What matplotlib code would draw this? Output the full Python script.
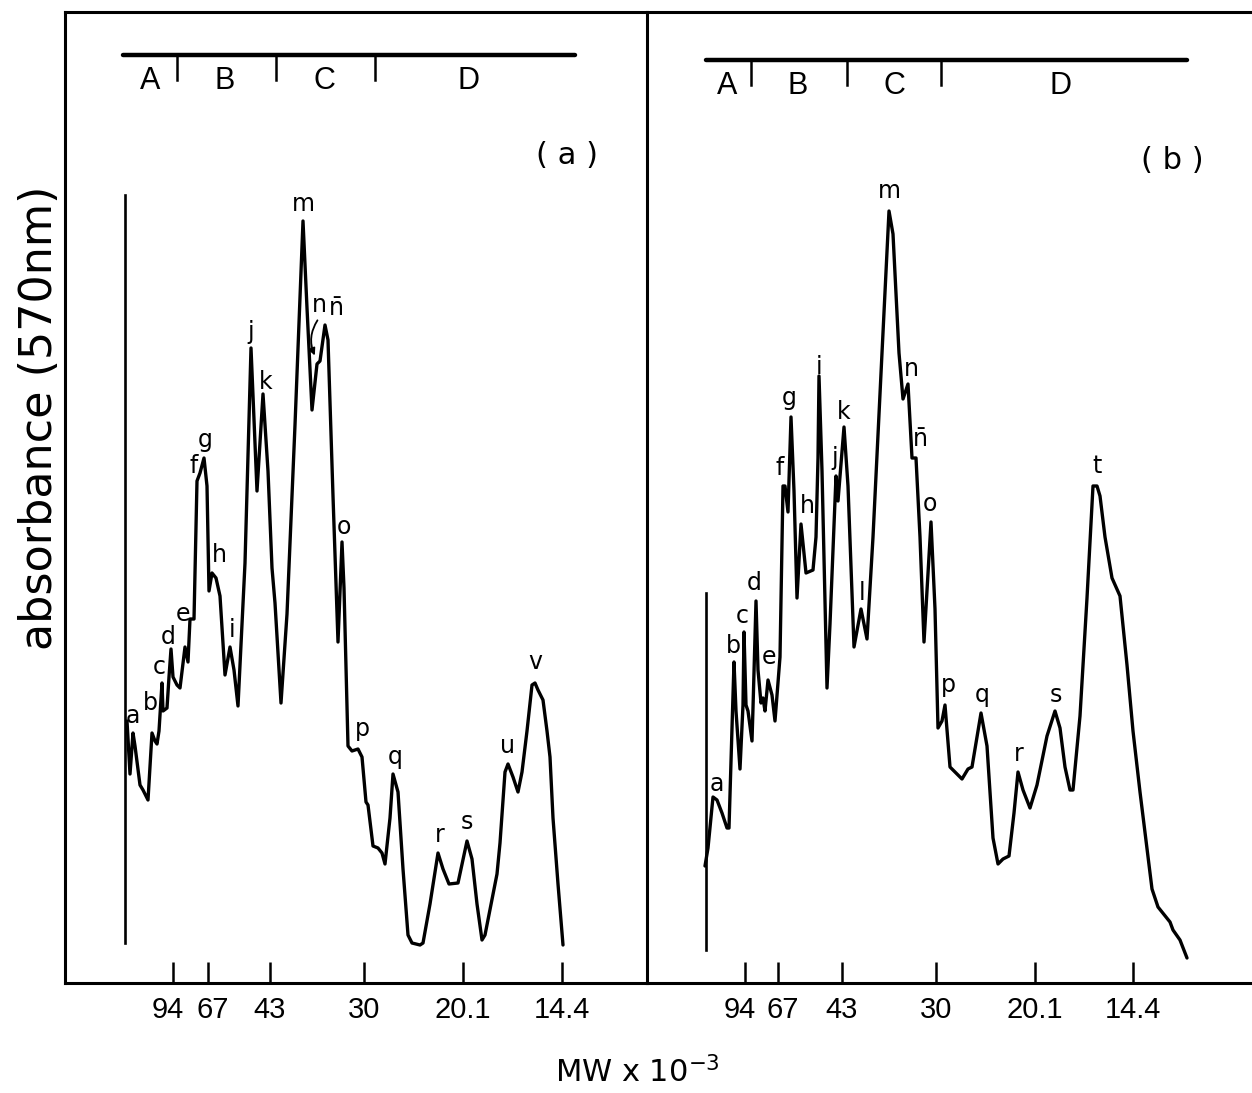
import numpy as np
import matplotlib
matplotlib.use("Agg")
import matplotlib.pyplot as plt
import matplotlib.transforms as mtransforms

plt.rcParams['font.family'] = ['DejaVu Sans']
plt.rcParams['mathtext.fontset'] = 'dejavusans'

# ---------------- data ----------------
# migration distance (chart units) and pen row (chart units, 0 absorbance at row 983)
BASE_ROW = 983.0
ROWS_PER_UNIT = 100.0

a_dist = [127, 130, 133, 135, 140, 143, 148, 152, 155, 157, 159, 162, 163, 167, 169, 171, 173, 177, 180,
          185, 188, 190, 194, 197, 200, 204, 207, 209, 212, 216, 220, 225, 230, 234, 238, 245, 251, 257,
          263, 268, 272, 275, 281, 287, 295, 303, 307, 312, 317, 320, 325, 328, 333, 338, 342, 344, 348,
          352, 358, 362, 366, 368, 373, 378, 382, 385, 390, 393, 398, 403, 408, 412, 420, 423, 430, 438,
          443, 449, 458, 467, 472, 477, 482, 485, 497, 500, 505, 508, 513, 518, 522, 527, 532, 535, 538,
          543, 547, 550, 553, 558, 563]
a_row = [721, 774, 733, 746, 785, 790, 800, 733, 741, 744, 731, 683, 711, 708, 677, 649, 677, 685, 688,
         647, 662, 619, 619, 481, 473, 458, 486, 591, 573, 578, 596, 675, 647, 670, 706, 563, 348, 491,
         394, 471, 568, 603, 703, 614, 425, 221, 308, 410, 364, 361, 325, 340, 496, 642, 542, 588, 746,
         751, 749, 757, 802, 805, 846, 848, 853, 864, 818, 774, 792, 869, 935, 943, 945, 943, 904, 853,
         869, 884, 883, 841, 859, 904, 940, 935, 874, 843, 772, 764, 777, 792, 772, 731, 685, 683, 690,
         700, 731, 757, 818, 884, 945]

b_dist = [705, 708, 713, 717, 722, 727, 729, 733, 734, 736, 740, 743, 744, 746, 748, 752, 753, 756, 758,
          761, 763, 765, 768, 772, 775, 780, 783, 785, 788, 791, 794, 797, 801, 806, 813, 816, 818, 819,
          822, 827, 830, 836, 838, 844, 848, 854, 861, 867, 873, 882, 889, 893, 899, 903, 908, 912, 916,
          920, 924, 931, 935, 938, 942, 945, 950, 955, 962, 968, 972, 981, 987, 993, 998, 1003, 1009,
          1014, 1018, 1023, 1030, 1037, 1047, 1055, 1060, 1065, 1070, 1073, 1080, 1087, 1093, 1097, 1100,
          1105, 1112, 1120, 1127, 1133, 1140, 1152, 1158, 1170, 1173, 1180, 1187]
b_row = [866, 848, 797, 800, 813, 828, 828, 695, 662, 711, 769, 705, 632, 705, 711, 741, 708, 601, 670,
         703, 698, 711, 680, 695, 721, 657, 486, 486, 512, 417, 491, 598, 524, 573, 570, 537, 458, 376,
         471, 688, 624, 476, 501, 427, 486, 647, 609, 639, 537, 353, 211, 234, 353, 399, 384, 458, 458,
         537, 642, 522, 609, 728, 721, 705, 767, 772, 779, 769, 767, 713, 746, 838, 864, 859, 856,
         813, 772, 790, 808, 785, 736, 711, 728, 767, 790, 790, 716, 598, 486, 486, 496,
         537, 578, 596, 665, 731, 792, 889, 907, 922, 930, 940, 958]

# band letters
a_peak_names = ["a", "b", "c", "d", "e", "f", "g", "h", "i", "j", "k", "m", "n", r"$\bar{\mathrm{n}}$",
                "o", "p", "q", "r", "s", "u", "v"]
a_peak_dist = [133, 150, 159, 168, 183, 194, 205, 219, 232, 251, 266, 303, 319, 336, 344, 362, 395, 440,
               467, 508, 535]
a_peak_row = [716, 703, 667, 637, 614, 466, 440, 555, 630, 332, 382, 204, 305, 309, 527, 729, 757, 835,
              822, 746, 662]

b_peak_names = ["a", "b", "c", "d", "e", "f", "g", "h", "i", "j", "k", "l", "m", "n",
                r"$\bar{\mathrm{n}}$", "o", "p", "q", "r", "s", "t"]
b_peak_dist = [717, 733, 742, 754, 769, 780, 789, 807, 819, 835, 844, 862, 889, 911, 920, 930, 948,
               982, 1019, 1056, 1097]
b_peak_row = [784, 646, 616, 583, 657, 468, 398, 506, 367, 458, 412, 593, 191, 369, 440, 504, 685,
              695, 754, 695, 466]

# molecular-weight markers (x 10^-3)
mw_labels = ["94", "67", "43", "30", "20.1", "14.4"]
a_mw_dist = [173, 208, 270, 364, 463, 562]
b_mw_dist = [745, 778, 842, 936, 1035, 1133]

# regions
region_names = ["A", "B", "C", "D"]
a_region_edges = [123, 177, 276, 375, 575]
a_region_label_dist = [150, 225, 324, 468]
b_region_edges = [706, 751, 847, 941, 1187]
b_region_label_dist = [727, 798, 894, 1060]


def to_abs(rows):
    return (BASE_ROW - np.asarray(rows, dtype=float)) / ROWS_PER_UNIT


# ---------------- figure ----------------
W, H = 1252, 1093
fig = plt.figure(figsize=(W / 100, H / 100), dpi=100)

LW_FRAME = 2.2
LW_TRACE = 2.4
TOP_ROW = 12


def make_panel(left_px, right_px):
    ax = fig.add_axes([left_px / W, (H - BASE_ROW) / H, (right_px - left_px) / W,
                       (BASE_ROW - TOP_ROW) / H])
    ax.set_xlim(left_px, right_px)
    ax.set_ylim(0, (BASE_ROW - TOP_ROW) / ROWS_PER_UNIT)
    ax.set_yticks([])
    ax.patch.set_visible(False)
    for s in ax.spines.values():
        s.set_linewidth(LW_FRAME)
    return ax


ax_a = make_panel(65, 647)
ax_b = make_panel(647, 1262)
ax_b.spines['right'].set_visible(False)
ax_b.spines['left'].set_visible(False)

NARROW = ['Liberation Sans', 'DejaVu Sans']
tick_font = dict(family=NARROW, size=21)


def draw_panel(ax, dist, row, start_line, names, pdist, prow, mw_dist, edges, rlab, bar_row,
               lab_row, panel_tag, tag_pos):
    # trace
    ax.plot(dist, to_abs(row), color='black', lw=LW_TRACE, solid_joinstyle='round',
            solid_capstyle='round')
    # starting pen line
    ax.plot([start_line[0], start_line[0]], to_abs([start_line[1], start_line[2]]),
            color='black', lw=LW_TRACE - 0.5)
    # band letters
    for nm, x, r in zip(names, pdist, prow):
        ax.text(x, to_abs([r])[0], nm, ha='center', va='center', fontsize=17, color='black')
    # MW marker ticks
    ax.set_xticks(mw_dist)
    ax.set_xticklabels(mw_labels, fontdict=tick_font)
    ax.tick_params(axis='x', direction='in', length=15, width=1.8, pad=9, colors='black')
    # spread the two crowded labels a little, as on the original chart
    labs = ax.get_xticklabels()
    for lab, dx in zip(labs[:2], (-5, 5)):
        lab.set_transform(lab.get_transform() +
                          mtransforms.ScaledTranslation(dx / 100, 0, fig.dpi_scale_trans))
    # region bar
    yb = to_abs([bar_row])[0]
    ax.plot([edges[0], edges[-1]], [yb, yb], color='black', lw=3.2, solid_capstyle='round')
    for e in edges[1:-1]:
        ax.plot([e, e], [yb, yb - 0.25], color='black', lw=1.8)
    for nm, x in zip(region_names, rlab):
        ax.text(x, to_abs([lab_row])[0], nm, ha='center', va='center', fontsize=22,
                family=NARROW)
    ax.text(tag_pos[0], to_abs([tag_pos[1]])[0], panel_tag, ha='center', va='center', fontsize=22)


draw_panel(ax_a, a_dist, a_row, (125, 195, 943), a_peak_names, a_peak_dist, a_peak_row,
           a_mw_dist, a_region_edges, a_region_label_dist, 55, 81, "( a )", (567, 155))
draw_panel(ax_b, b_dist, b_row, (706, 593, 950), b_peak_names, b_peak_dist, b_peak_row,
           b_mw_dist, b_region_edges, b_region_label_dist, 60, 86, "( b )", (1172, 160))

# little arrow from "n" to its shoulder in panel (a)
ax_a.annotate("", xy=(316, to_abs([358])[0]), xytext=(319, to_abs([318])[0]),
              arrowprops=dict(arrowstyle='-|>', color='black', lw=1.3, mutation_scale=10,
                              connectionstyle='arc3,rad=0.3'))

# axis titles
fig.text(40 / W, 1 - 418 / H, "absorbance (570nm)", rotation=90, ha='center', va='center',
         fontsize=32)
fig.text(637 / W, 1 - 1082 / H, r"MW x 10$^{-3}$", ha='center', va='baseline', fontsize=22)

fig.savefig("out.png", dpi=100, facecolor='white')
